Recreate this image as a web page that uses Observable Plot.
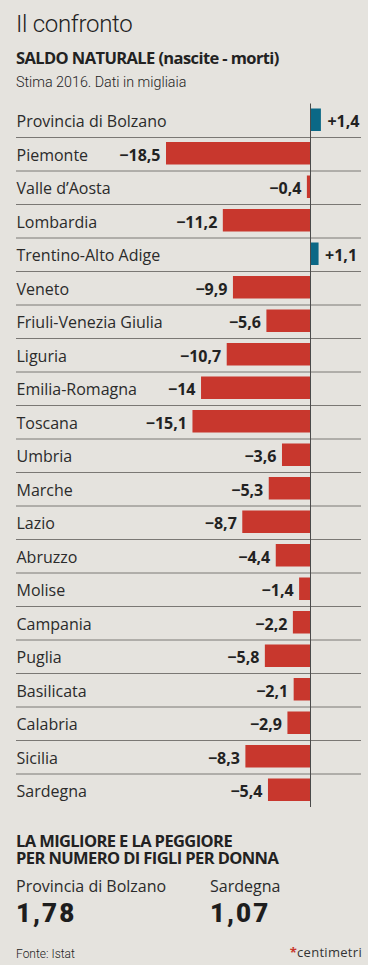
<!DOCTYPE html>
<html>
<head>
<meta charset="utf-8">
<script src="https://cdn.jsdelivr.net/npm/d3@7"></script>
<script src="https://cdn.jsdelivr.net/npm/@observablehq/plot@0.6"></script>
<style>
  html, body { margin: 0; padding: 0; background: #ffffff; }
  #card { position: relative; width: 368px; height: 965px; background: #e5e3de; overflow: hidden; color: #222; }
  .abs { position: absolute; left: 16px; white-space: nowrap; line-height: 1; }
  .title { font-family: Roboto; font-weight: 300; font-size: 24px; top: 12px; letter-spacing: -0.3px; }
  .sub { font-family: "Open Sans"; font-weight: 700; font-size: 16.5px; letter-spacing: -0.6px; }
  .sub2 { line-height: 17.3px; top: 831.65px; }
  .note { font-family: Roboto; font-weight: 300; font-size: 14.3px; top: 75.3px; }
  .name { font-family: "Open Sans"; font-size: 16px; top: 877.5px; color: #2b2b2b; }
  .big { font-family: Roboto; font-weight: 900; font-size: 26px; top: 900.4px; letter-spacing: 2px; color: #1e1e1e; }
  .src { font-family: Roboto; font-weight: 300; font-size: 12px; top: 948px; }
  .logo { position: absolute; right: 6px; top: 946px; font-family: "Open Sans"; font-size: 13px; line-height: 1; letter-spacing: 0.3px; color: #333; }
  .logo span { color: #c8372d; font-weight: 700; }
  #chart { position: absolute; left: 0; top: 90px; }
  #chart svg { display: block; }
</style>
</head>
<body>
<div id="card">
  <div class="abs title">Il confronto</div>
  <div class="abs sub" style="top:49.5px">SALDO NATURALE (nascite - morti)</div>
  <div class="abs note">Stima 2016. Dati in migliaia</div>
  <div id="chart"></div>
  <div class="abs sub sub2">LA MIGLIORE E LA PEGGIORE<br>PER NUMERO DI FIGLI PER DONNA</div>
  <div class="abs name" id="bestName"></div>
  <div class="abs name" id="worstName" style="left:210px"></div>
  <div class="abs big" id="bestVal"></div>
  <div class="abs big" id="worstVal" style="left:210px"></div>
  <div class="abs src">Fonte: Istat</div>
  <div class="logo"><span>*</span>centimetri</div>
</div>
<script>
// Data
const regions = ["Provincia di Bolzano", "Piemonte", "Valle d’Aosta", "Lombardia", "Trentino-Alto Adige", "Veneto", "Friuli-Venezia Giulia", "Liguria", "Emilia-Romagna", "Toscana", "Umbria", "Marche", "Lazio", "Abruzzo", "Molise", "Campania", "Puglia", "Basilicata", "Calabria", "Sicilia", "Sardegna"];
const values = [1.4, -18.5, -0.4, -11.2, 1.1, -9.9, -5.6, -10.7, -14, -15.1, -3.6, -5.3, -8.7, -4.4, -1.4, -2.2, -5.8, -2.1, -2.9, -8.3, -5.4];
const fertilityNames = ["Provincia di Bolzano", "Sardegna"];
const fertilityValues = [1.78, 1.07];

const RED = "#c8372d";
const TEAL = "#0b6886";

const data = regions.map((r, i) => ({region: r, value: values[i]}));
const pos = data.filter(d => d.value > 0);
const neg = data.filter(d => d.value < 0);
const num = v => d3.format(".1~f")(Math.abs(v)).replace(".", ",");
const fmt = v => (v > 0 ? "+" : "−") + num(v);
const num2 = v => d3.format(".2f")(v).replace(".", ",");

const chart = Plot.plot({
  width: 368,
  height: 730,
  marginTop: 13.5,
  marginBottom: 13,
  marginLeft: 16,
  marginRight: 7,
  x: {domain: [-18.5, 1.4], range: [166, 320.9], axis: null},
  y: {domain: regions, axis: null, padding: 0, round: false},
  style: {background: "transparent", fontFamily: "Open Sans", overflow: "visible"},
  marks: [
    Plot.ruleY(regions.slice(1), {y: d => d, dy: -16.75, stroke: "#7a7874", strokeWidth: 1}),
    Plot.barX(neg, {x: "value", y: "region", fill: RED, insetTop: 5, insetBottom: 6}),
    Plot.barX(pos, {x: "value", y: "region", fill: TEAL, insetTop: 5, insetBottom: 6}),
    Plot.ruleX([0], {stroke: "#4a4a4a", strokeWidth: 1}),
    Plot.text(data, {y: "region", text: "region", frameAnchor: "left", textAnchor: "start", fontSize: 16, fill: "#2b2b2b", dy: 1.5}),
    Plot.text(neg, {x: "value", y: "region", text: d => fmt(d.value), textAnchor: "end", dx: -6, dy: 1.5, fontSize: 16, fontWeight: 700, fill: "#222"}),
    Plot.text(pos, {x: "value", y: "region", text: d => fmt(d.value), textAnchor: "start", dx: 6, dy: 1.5, fontSize: 16, fontWeight: 700, fill: "#222"})
  ]
});
document.getElementById("chart").appendChild(chart);

document.getElementById("bestName").textContent = fertilityNames[0];
document.getElementById("worstName").textContent = fertilityNames[1];
document.getElementById("bestVal").textContent = num2(fertilityValues[0]);
document.getElementById("worstVal").textContent = num2(fertilityValues[1]);
</script>
</body>
</html>
